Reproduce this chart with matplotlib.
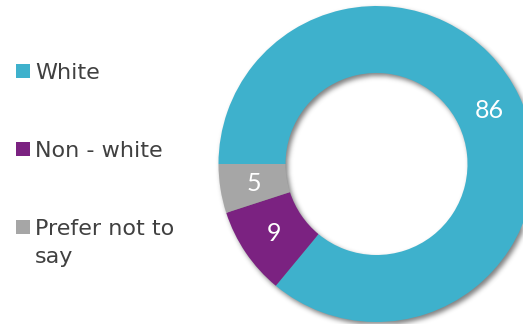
import textwrap
import numpy as np
import matplotlib
matplotlib.use("Agg")
import matplotlib.pyplot as plt
from matplotlib.patches import Rectangle

categories = ["White", "Non - white", "Prefer not to say"]
values = [86, 9, 5]
colors = ["#3EB1CC", "#7B2281", "#A6A6A6"]

W, H = 523, 324
fig = plt.figure(figsize=(W / 100, H / 100), dpi=100)
ax = fig.add_axes([0, 0, 1, 1])

cx, cy = 376.5, H - 164
r_out, r_in = 158, 91
ring_w = r_out - r_in

# soft drop shadow of the ring, offset down and to the right
yy, xx = np.mgrid[0:H, 0:W] + 0.5
dx, dy = 2.5, -3.0
d = np.hypot(xx - (cx + dx), (H - yy) - (cy + dy))
mask = ((d <= r_out) & (d >= r_in)).astype(float)
k = np.exp(-0.5 * (np.arange(-8, 9) / 2.5) ** 2)
k /= k.sum()
blur = np.apply_along_axis(lambda v: np.convolve(v, k, mode="same"), 0, mask)
blur = np.apply_along_axis(lambda v: np.convolve(v, k, mode="same"), 1, blur)
shadow = np.zeros((H, W, 4))
shadow[..., 3] = blur * 0.5
ax.imshow(shadow, extent=(0, W, 0, H), origin="upper", zorder=0, interpolation="bilinear")

wedges, _ = ax.pie(
    values,
    colors=colors,
    startangle=180,
    counterclock=False,
    radius=r_out,
    center=(cx, cy),
    wedgeprops=dict(width=ring_w, edgecolor="none", linewidth=0),
    frame=True,
)
ax.set_xlim(0, W)
ax.set_ylim(0, H)
ax.set_aspect("equal")
ax.axis("off")
for w in wedges:
    w.set_zorder(2)

# value labels at the middle of the ring
r_mid = r_in + ring_w / 2
for w, v in zip(wedges, values):
    ang = np.deg2rad((w.theta1 + w.theta2) / 2)
    ax.text(cx + r_mid * np.cos(ang), cy + r_mid * np.sin(ang), f"{v}",
            ha="center", va="center", color="white", fontsize=18,
            family="Lato", zorder=3)

# legend
sq = 14
legend_base = [79, 157, 235]
line_step = 28
for cat, col, base in zip(categories, colors, legend_base):
    ax.add_patch(Rectangle((16, H - base + 1), sq, sq, facecolor=col,
                           edgecolor="none", zorder=3))
    for i, line in enumerate(textwrap.wrap(cat, 13)):
        ax.text(35, H - base - i * line_step, line, ha="left", va="baseline",
                fontsize=16, color="#404040", family="DejaVu Sans", zorder=3)

fig.savefig("out.png", dpi=100)
